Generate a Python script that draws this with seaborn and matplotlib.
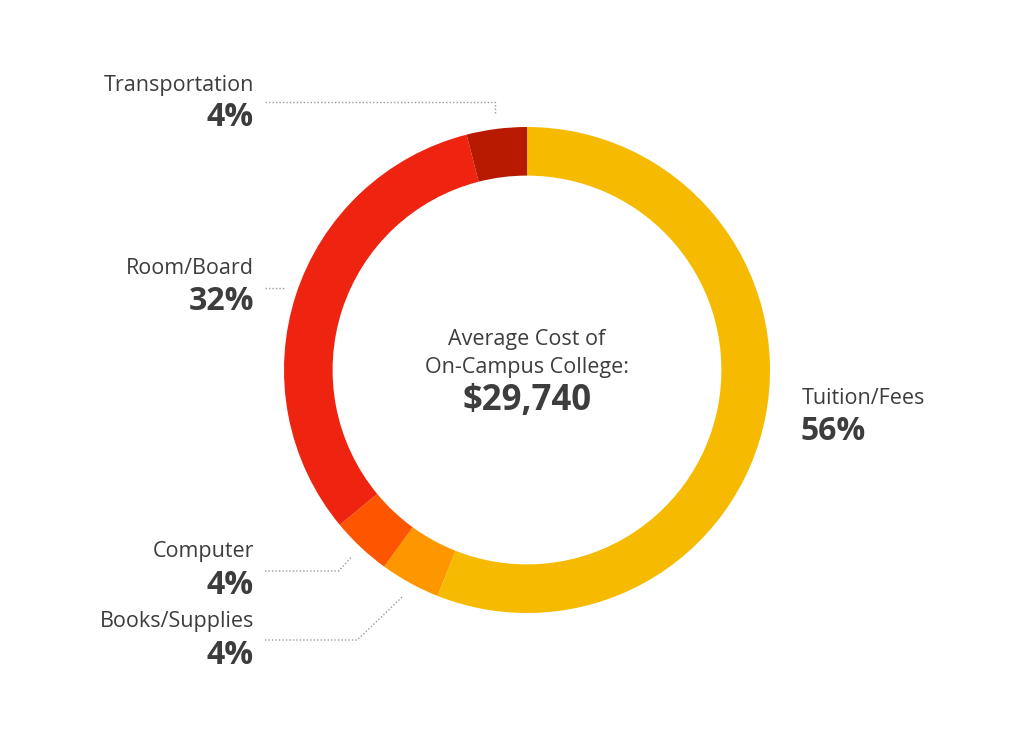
import matplotlib
matplotlib.use("Agg")
import matplotlib.pyplot as plt
import seaborn as sns
import numpy as np

# ---- data ----
categories = ["Tuition/Fees", "Books/Supplies", "Computer", "Room/Board", "Transportation"]
shares = [56, 4, 4, 32, 4]
colors = ["#F6BA00", "#FE9600", "#FE5500", "#EE2410", "#B71A00"]
center_lines = ["Average Cost of", "On-Campus College:"]
center_total = "$29,740"

sns.set_theme(style="white")
plt.rcParams["font.family"] = ["Open Sans", "DejaVu Sans"]

W, H = 1024, 745
fig = plt.figure(figsize=(W / 100, H / 100), dpi=100)
fig.patch.set_facecolor("white")

# donut geometry in pixels
cx, cy, R = 527, 370, 243
ax_pie = fig.add_axes([(cx - R) / W, (H - cy - R) / H, 2 * R / W, 2 * R / H])
palette = sns.color_palette(colors)
ax_pie.pie(shares, colors=palette, startangle=90, counterclock=False, radius=1,
           wedgeprops=dict(width=0.2, linewidth=0))
ax_pie.set_xlim(-1, 1)
ax_pie.set_ylim(-1, 1)
ax_pie.axis("off")

# overlay in pixel coordinates
ax = fig.add_axes([0, 0, 1, 1])
ax.set_xlim(0, W)
ax.set_ylim(H, 0)
ax.axis("off")
ax.patch.set_alpha(0)

txt = "#3d3d3d"
line_c = "#9a9a9a"

# wedge mid angles (degrees, math convention)
bounds = 90 - np.cumsum([0] + shares) * 3.6
mids = (bounds[:-1] + bounds[1:]) / 2

def anchor(i, r=256):
    a = np.deg2rad(mids[i])
    return cx + r * np.cos(a), cy - r * np.sin(a)

lab_x = 254
line_x0 = 265
fs_lab, fs_pct = 15.5, 23
bw = "bold"

# label placement: (name y, pct y, line y)
place = {
    "Transportation": (85, 118, 102),
    "Room/Board": (269, 302, 288),
    "Computer": (552, 585, 571),
    "Books/Supplies": (621, 655, 640),
}

for i, cat in enumerate(categories):
    if cat == "Tuition/Fees":
        ax.text(802, 398, cat, ha="left", va="center", fontsize=fs_lab, color=txt)
        ax.text(800, 432, f"{shares[i]}%", ha="left", va="center", fontsize=fs_pct,
                fontweight=bw, color=txt)
        continue
    ny, py, ly = place[cat]
    ax.text(lab_x, ny, cat, ha="right", va="center", fontsize=fs_lab, color=txt)
    ax.text(lab_x, py, f"{shares[i]}%", ha="right", va="center", fontsize=fs_pct,
            fontweight=bw, color=txt)
    if cat == "Transportation":
        axp, ayp = anchor(i, 257)
        xs = [line_x0, axp, axp]
        ys = [ly, ly, ayp]
    elif cat == "Room/Board":
        dx = np.sqrt((R + 12) ** 2 - (cy - ly) ** 2)
        xs = [line_x0, cx - dx]
        ys = [ly, ly]
    elif cat == "Computer":
        axp, ayp = anchor(i, 256)
        xs = [line_x0, axp - 13, axp]
        ys = [ly, ly, ayp]
    else:
        axp, ayp = anchor(i, 259)
        xs = [line_x0, axp - 45, axp]
        ys = [ly, ly, ayp]
    ax.plot(xs, ys, color=line_c, lw=1, ls=(0, (1, 1.5)))

ax.text(cx, 340, center_lines[0], ha="center", va="center", fontsize=15.5, color=txt)
ax.text(cx, 367, center_lines[1], ha="center", va="center", fontsize=15.5, color=txt)
ax.text(cx, 401, center_total, ha="center", va="center", fontsize=25,
        fontweight=bw, color=txt)

fig.savefig("out.png", dpi=100, facecolor="white")
